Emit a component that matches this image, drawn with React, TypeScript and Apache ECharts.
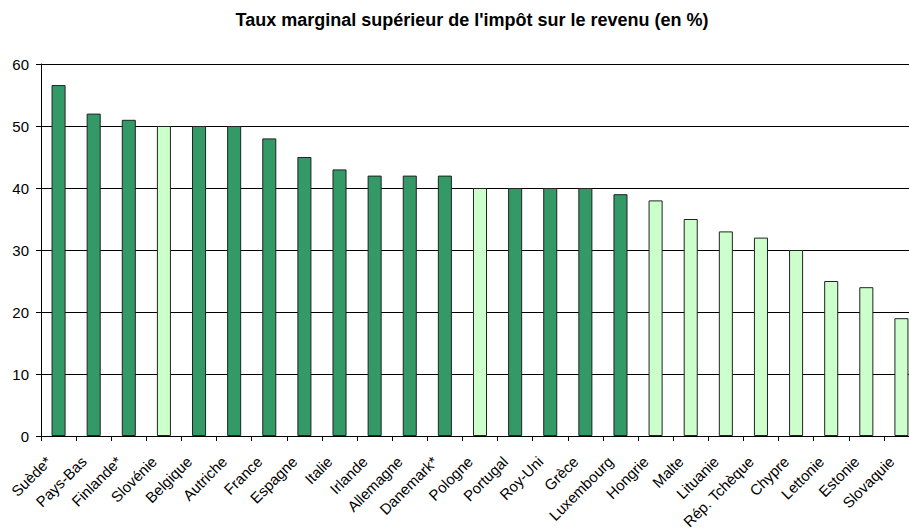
import React, { useEffect, useRef } from "react";
import * as echarts from "echarts";

const categories = [
  "Suède*", "Pays-Bas", "Finlande*", "Slovénie", "Belgique", "Autriche", "France",
  "Espagne", "Italie", "Irlande", "Allemagne", "Danemark*", "Pologne", "Portugal",
  "Roy-Uni", "Grèce", "Luxembourg", "Hongrie", "Malte", "Lituanie", "Rép. Tchèque",
  "Chypre", "Lettonie", "Estonie", "Slovaquie",
];
const values = [
  56.6, 52, 51, 50, 50, 50, 48, 45, 43, 42, 42, 42, 40, 40, 40, 40, 39, 38, 35, 33, 32, 30, 25, 24, 19,
];
const newMembers = [
  "Slovénie", "Pologne", "Hongrie", "Malte", "Lituanie", "Rép. Tchèque", "Chypre",
  "Lettonie", "Estonie", "Slovaquie",
];
const yTicks = { min: 0, max: 60, interval: 10 };
const title = "Taux marginal supérieur de l'impôt sur le revenu (en %)";

const DARK = "#339966";
const LIGHT = "#CCFFCC";
const FONT = "Liberation Sans, Arial, sans-serif";

export default function App() {
  const ref = useRef<HTMLDivElement>(null);
  useEffect(() => {
    if (!ref.current) return;
    const chart = echarts.init(ref.current, null, { renderer: "svg" });
    chart.setOption({
      animation: false,
      backgroundColor: "#ffffff",
      textStyle: { fontFamily: FONT },
      title: {
        text: title,
        left: 467,
        top: 6,
        textAlign: "center",
        textStyle: { fontSize: 18, fontWeight: "bold", color: "#000", fontFamily: FONT },
      },
      grid: {
        left: 41,
        width: 878,
        top: 64,
        height: 372,
        containLabel: false,
        outerBoundsMode: "none",
      },
      xAxis: {
        type: "category",
        data: categories,
        boundaryGap: true,
        axisLine: { lineStyle: { color: "#000", width: 1 } },
        axisTick: { show: true, length: 5, lineStyle: { color: "#000" } },
        axisLabel: {
          interval: 0,
          rotate: 45,
          margin: 13,
          padding: [0, 14, 0, 0],
          fontSize: 15,
          color: "#000",
          fontFamily: FONT,
        },
      },
      yAxis: {
        type: "value",
        min: yTicks.min,
        max: yTicks.max,
        interval: yTicks.interval,
        axisLine: { show: true, lineStyle: { color: "#000", width: 1 } },
        axisTick: { show: true, length: 5, lineStyle: { color: "#000" } },
        splitLine: { show: true, lineStyle: { color: "#000", width: 1 } },
        axisLabel: { fontSize: 15, color: "#000", margin: 12, fontFamily: FONT },
      },
      series: [
        {
          type: "bar",
          barWidth: "40%",
          data: values.map((v, i) => ({
            value: v,
            itemStyle: {
              color: newMembers.includes(categories[i]) ? LIGHT : DARK,
              borderColor: "#222",
              borderWidth: 1,
            },
          })),
        },
      ],
    });
    return () => chart.dispose();
  }, []);
  return <div ref={ref} style={{ position: "fixed", left: 0, top: 0, width: 909, height: 528 }} />;
}
